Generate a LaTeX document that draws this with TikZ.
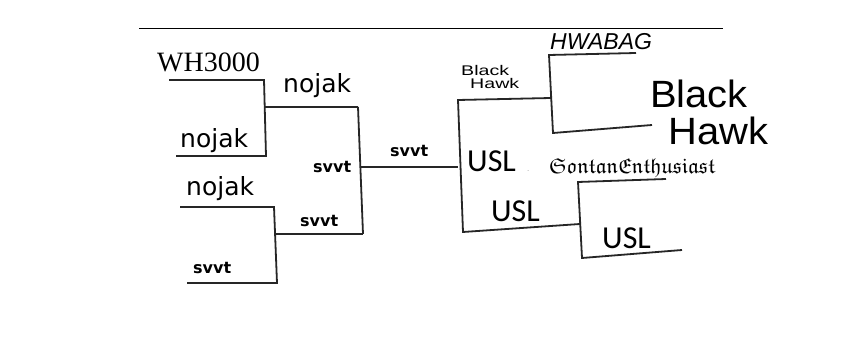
\documentclass[tikz,border=0pt]{standalone}
\usepackage{amssymb}
\usepackage{graphicx}
\usepackage{fontspec}
\newfontfamily\serifF{Liberation Serif}
\newfontfamily\comicF{DejaVu Sans}
\newfontfamily\uslF{Carlito}
\newfontfamily\handF{Liberation Sans}
\begin{document}
\begin{tikzpicture}[x=1pt,y=-1pt,
  br/.style={line width=1.8pt,draw=black!85},
  lbl/.style={inner sep=0pt,anchor=base west},
  nojakF/.style={lbl,font=\comicF\fontsize{25}{25}\selectfont},
  svvtF/.style={lbl,font=\comicF\bfseries\fontsize{16}{16}\selectfont},
  uslS/.style={lbl,font=\uslF\fontsize{32}{32}\selectfont},
  bigH/.style={lbl,font=\handF\fontsize{38}{38}\selectfont,text depth=0pt},
]
\useasboundingbox (0,0) rectangle (862,352);
\fill[white] (0,0) rectangle (862,352);
% top rule
\coordinate (t1) at (139,29); \coordinate (t2) at (723,29);
\draw[line width=1pt] (t1) -- (t2);
% left upper bracket
\coordinate (a1) at (169,80); \coordinate (a2) at (264,80);
\coordinate (a3) at (266,156); \coordinate (a4) at (176,156);
\coordinate (am) at (265,107); \coordinate (b1) at (358,107);
\draw[br] (a1) -- (a2) -- (a3) -- (a4);
\draw[br] (am) -- (b1);
% left lower bracket
\coordinate (c1) at (180,207); \coordinate (c2) at (274,207);
\coordinate (c3) at (277,283); \coordinate (c4) at (187,283);
\coordinate (cm) at (276,234); \coordinate (b2) at (363,234);
\draw[br] (c1) -- (c2) -- (c3) -- (c4);
\draw[br] (cm) -- (b2);
% second round left
\draw[br] (b1) -- (b2);
\coordinate (bm) at (361,167); \coordinate (d1) at (458,167);
\draw[br] (bm) -- (d1);
% right side
\coordinate (r1) at (551,98); \coordinate (r0) at (458,100);
\coordinate (r2) at (463,232); \coordinate (r3) at (580,224);
\draw[br] (r1) -- (r0) -- (r2) -- (r3);
% upper right bracket
\coordinate (u1) at (636,53); \coordinate (u2) at (549,55);
\coordinate (u3) at (553,133); \coordinate (u4) at (652,125);
\draw[br] (u1) -- (u2) -- (u3) -- (u4);
% lower right bracket
\coordinate (v1) at (666,179); \coordinate (v2) at (578,182);
\coordinate (v3) at (582,258); \coordinate (v4) at (682,250);
\draw[br] (v1) -- (v2) -- (v3) -- (v4);
% labels
\node[lbl,font=\serifF\fontsize{28}{28}\selectfont] (wh) at (157,72) {WH3000};
\node[nojakF] (n1) at (283,93) {nojak};
\node[nojakF] (n2) at (180,148) {nojak};
\node[nojakF] (n3) at (186,196) {nojak};
\node[svvtF] (s1) at (390,157) {svvt};
\node[svvtF] (s2) at (313,173) {svvt};
\node[svvtF] (s3) at (300,227) {svvt};
\node[svvtF] (s4) at (193,274) {svvt};
\node[lbl,font=\handF\fontsize{14}{14}\selectfont,text depth=0pt] (bh1a) at (461,76) {\scalebox{1.4}[1]{Black}};
\node[lbl,font=\handF\fontsize{14}{14}\selectfont,text depth=0pt] (bh1b) at (470,89) {\scalebox{1.4}[1]{Hawk}};
\node[lbl,font=\handF\itshape\fontsize{23}{23}\selectfont] (hw) at (550,50) {HWABAG};
\node[bigH] (bh2a) at (650,108) {\scalebox{1.05}[1]{Black}};
\node[bigH] (bh2b) at (668,145) {\scalebox{1.05}[1]{Hawk}};
\node[uslS] (u_a) at (467,172) {USL};
\node[uslS] (u_b) at (491,222) {USL};
\node[uslS] (u_c) at (602,249) {USL};
\node[lbl,font=\fontsize{6}{6}\selectfont] (dot) at (527,172) {.};
\node[lbl,font=\fontsize{21.4}{21.4}\selectfont] (st) at (549,174) {$\mathfrak{SontanEnthusiast}$};
\end{tikzpicture}
\end{document}
